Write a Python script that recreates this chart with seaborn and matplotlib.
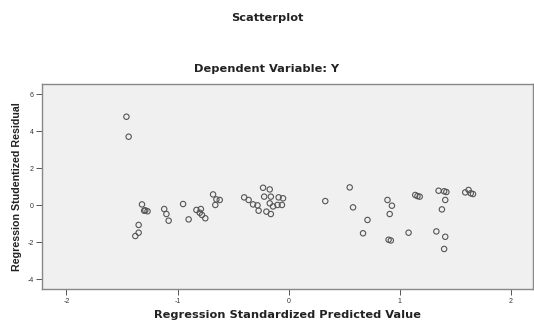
import matplotlib
matplotlib.use("Agg")
import matplotlib.pyplot as plt
import seaborn as sns
import pandas as pd

# Regression standardized predicted value (x) and studentized residual (y)
pred = [-1.46, -1.44, -1.32, -1.30, -1.29, -1.27, -1.35, -1.35, -1.38,
        -1.12, -1.10, -1.08, -0.95, -0.90, -0.83, -0.80, -0.78, -0.75, -0.79,
        -0.68, -0.65, -0.66, -0.62,
        -0.40, -0.36, -0.32, -0.27, -0.28, -0.23, -0.17, -0.22, -0.16, -0.17,
        -0.20, -0.16, -0.09, -0.05, -0.10, -0.14, -0.06,
        0.33, 0.55, 0.58, 0.71, 0.67, 0.89, 0.93, 0.91, 0.90, 0.92, 1.08,
        1.14, 1.16, 1.18, 1.35, 1.40, 1.42, 1.41, 1.38, 1.33, 1.41, 1.40,
        1.59, 1.62, 1.64, 1.66]
resid = [4.79, 3.71, 0.05, -0.29, -0.27, -0.32, -1.06, -1.48, -1.66,
         -0.20, -0.47, -0.83, 0.07, -0.76, -0.25, -0.40, -0.52, -0.70, -0.20,
         0.59, 0.32, 0.02, 0.29,
         0.43, 0.29, 0.05, -0.29, 0.00, 0.95, 0.86, 0.47, 0.47, 0.11,
         -0.34, -0.47, 0.43, 0.38, 0.02, -0.06, 0.02,
         0.23, 0.97, -0.11, -0.79, -1.51, 0.29, -0.02, -0.47, -1.86, -1.90, -1.48,
         0.56, 0.50, 0.47, 0.79, 0.76, 0.72, 0.29, -0.22, -1.41, -1.70, -2.36,
         0.70, 0.83, 0.65, 0.61]

xticks = [-2, -1, 0, 1, 2]
yticks = [-4, -2, 0, 2, 4, 6]

df = pd.DataFrame({"pred": pred, "resid": resid})

sns.set_style("white")
plt.rcParams['font.family'] = ['Liberation Sans', 'DejaVu Sans']

fig = plt.figure(figsize=(5.34, 3.25), dpi=100)
ax = fig.add_axes([42/534, 1 - 289.3/325, (533-42)/534, (289.3-84)/325])
ax.set_facecolor("#f0f0f0")

sns.scatterplot(data=df, x="pred", y="resid", ax=ax, marker="o", s=15,
                facecolors="none", edgecolor="#555555", linewidth=0.8,
                legend=False)

ax.set_xlim(-2.22, 2.2)
ax.set_ylim(-4.54, 6.56)
ax.set_xticks(xticks)
ax.set_yticks(yticks)
ax.set_xticklabels([str(t) for t in xticks])
ax.set_yticklabels([str(t) for t in yticks])
ax.tick_params(axis="both", direction="out", length=4, width=0.7,
               colors="#555555", labelsize=5, pad=2, labelcolor="#333333")
ax.tick_params(axis="both", which="both", bottom=True, left=True)
for sp in ax.spines.values():
    sp.set_color("#888888")
    sp.set_linewidth(1.0)

ax.set_xlabel("Regression Standardized Predicted Value", fontsize=8.2,
              fontweight="bold", color="#222222", labelpad=4,
              family=["DejaVu Sans"])
ax.set_ylabel("Regression Studentized Residual", fontsize=7.7,
              fontweight="bold", color="#222222", labelpad=4)

fig.text(0.5, 1 - 18/325, "Scatterplot", ha="center", va="center",
         fontsize=8.2, fontweight="bold", color="#222222",
         family=["DejaVu Sans"])
fig.text(0.5, 1 - 69/325, "Dependent Variable: Y", ha="center", va="center",
         fontsize=8.2, fontweight="bold", color="#222222",
         family=["DejaVu Sans"])

fig.savefig("out.png", dpi=100, facecolor="white")
